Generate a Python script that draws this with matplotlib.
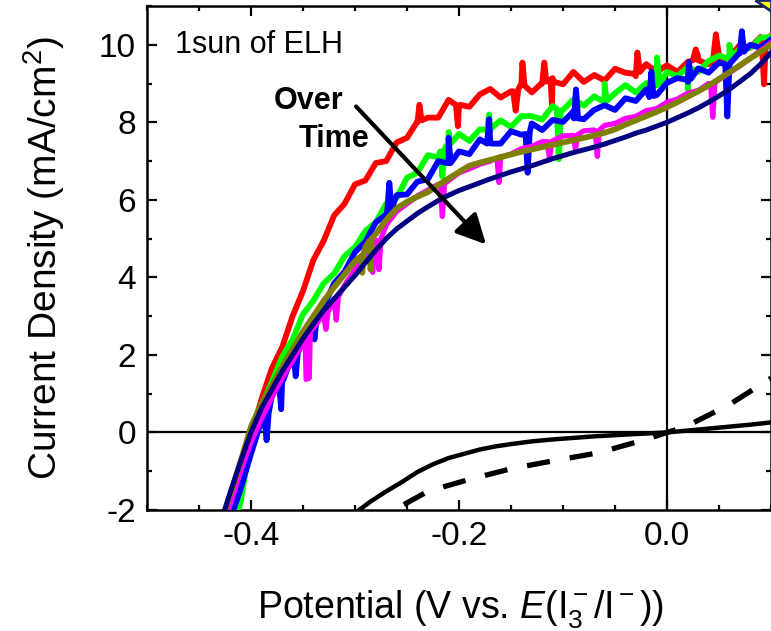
import numpy as np
import matplotlib
matplotlib.use('Agg')
import matplotlib.pyplot as plt
from matplotlib.ticker import MultipleLocator, FormatStrFormatter
from matplotlib.patches import Polygon

plt.rcParams['font.family'] = 'Liberation Sans'
plt.rcParams['mathtext.fontset'] = 'custom'
plt.rcParams['mathtext.rm'] = 'Liberation Sans'
plt.rcParams['mathtext.it'] = 'Liberation Sans:italic'
plt.rcParams['axes.unicode_minus'] = False

# ---- data (V vs E(I3-/I-), mA/cm2) ----
potential = [-0.43, -0.42, -0.41, -0.40, -0.39, -0.38, -0.37, -0.36, -0.35, -0.34,
             -0.33, -0.32, -0.31, -0.30, -0.29, -0.28, -0.27, -0.26, -0.25, -0.24,
             -0.23, -0.22, -0.21, -0.20, -0.19, -0.18, -0.17, -0.16, -0.15, -0.14,
             -0.13, -0.12, -0.11, -0.10, -0.09, -0.08, -0.07, -0.06, -0.05, -0.04,
             -0.03, -0.02, -0.01, 0.00, 0.01, 0.02, 0.03, 0.04, 0.05, 0.06,
             0.07, 0.08, 0.09, 0.10]

red_j = [-2.7, -1.85, -1.0, -0.1, 0.85, 1.65, 2.2, 3.0, 3.65, 4.45,
         4.95, 5.6, 5.9, 6.4, 6.5, 6.95, 7.0, 7.48, 7.60, 8.02,
         8.12, 8.12, 8.58, 8.43, 8.40, 8.72, 8.86, 8.64, 8.80, 9.01,
         8.77, 9.02, 9.14, 8.98, 9.30, 9.04, 9.22, 9.08, 9.38, 9.28,
         9.19, 9.50, 9.30, 9.47, 9.30, 9.56, 9.69, 9.50, 9.72, 9.68,
         9.99, 9.93, 10.2, 10.23]
green_j = [-3.6, -2.7, -1.8, -0.15, 0.7, 1.3, 1.95, 2.4, 3.05, 3.4,
           3.85, 4.1, 4.55, 4.78, 5.2, 5.42, 5.9, 6.05, 6.57, 6.70,
           7.15, 7.10, 7.43, 7.70, 7.52, 7.82, 7.77, 8.05, 7.88, 8.16,
           8.16, 8.07, 8.42, 8.32, 8.59, 8.43, 8.67, 8.51, 8.75, 8.96,
           8.77, 9.01, 8.95, 9.30, 9.19, 9.43, 9.30, 9.58, 9.72, 9.62,
           9.90, 9.92, 10.18, 10.2]
blue_j = [-3.1, -2.25, -1.45, -0.55, 0.3, 0.95, 1.4, 2.0, 2.35, 2.9,
          3.25, 3.85, 4.15, 4.65, 4.92, 5.42, 5.62, 6.12, 6.14, 6.47,
          6.53, 7.0, 6.95, 7.25, 7.18, 7.56, 7.48, 7.45, 7.77, 7.68,
          7.97, 7.8, 8.06, 8.01, 8.28, 8.08, 8.32, 8.44, 8.32, 8.62,
          8.55, 8.85, 8.7, 9.02, 9.14, 9.04, 9.39, 9.28, 9.54, 9.44,
          9.8, 10.0, 9.92, 10.14]
mag_j = [-2.7, -1.85, -1.0, -0.25, 0.35, 0.9, 1.4, 1.85, 2.3, 2.7,
         3.05, 3.45, 3.8, 4.2, 4.55, 4.9, 5.35, 5.7, 5.9, 6.1,
         6.25, 6.4, 6.5, 6.7, 6.8, 6.92, 7.0, 7.12, 7.18, 7.32,
         7.38, 7.5, 7.52, 7.65, 7.66, 7.78, 7.8, 7.92, 7.97, 8.1,
         8.15, 8.3, 8.35, 8.52, 8.6, 8.75, 8.82, 9.0, 9.1, 9.28,
         9.45, 9.65, 9.85, 10.05]
olive_j = [-2.4, -1.6, -0.75, 0.15, 0.75, 1.2, 1.7, 2.15, 2.6, 3.0,
           3.4, 3.75, 4.08, 4.42, 4.78, 5.12, 5.48, 5.78, 5.95, 6.08,
           6.2, 6.38, 6.55, 6.72, 6.88, 6.96, 7.03, 7.1, 7.17, 7.24,
           7.3, 7.36, 7.42, 7.48, 7.54, 7.6, 7.66, 7.73, 7.82, 7.94,
           8.05, 8.16, 8.27, 8.39, 8.52, 8.66, 8.8, 8.95, 9.12, 9.29,
           9.47, 9.65, 9.82, 10.0]
navy_j = [-2.4, -1.55, -0.75, 0.0, 0.62, 1.1, 1.58, 2.0, 2.42, 2.8,
          3.15, 3.45, 3.75, 4.05, 4.38, 4.7, 5.0, 5.25, 5.45, 5.65,
          5.82, 5.98, 6.12, 6.24, 6.34, 6.44, 6.54, 6.63, 6.72, 6.8,
          6.88, 6.97, 7.06, 7.14, 7.22, 7.29, 7.36, 7.44, 7.53, 7.62,
          7.72, 7.8, 7.9, 8.0, 8.12, 8.24, 8.37, 8.52, 8.68, 8.85,
          9.05, 9.25, 9.5, 9.8]

# tall noise spikes (shoulder, tip, shoulder)
red_spk_v = [-0.240, -0.238, -0.236, -0.203, -0.201, -0.199,
             -0.148, -0.1455, -0.143, -0.141, -0.139, -0.137, -0.120, -0.118, -0.116,
             -0.112, -0.1106, -0.109, -0.031, -0.0285, -0.026, 0.025, 0.0276, 0.030,
             0.044, 0.047, 0.050, 0.091, 0.0933, 0.095]
red_spk_j = [8.0, 8.45, 8.05, 8.45, 7.9, 8.45,
             8.8, 8.3, 8.85, 8.95, 9.54, 8.95, 9.0, 9.54, 9.05,
             9.1, 8.46, 9.05, 9.25, 9.8, 9.3, 9.6, 9.88, 9.6,
             9.55, 10.27, 9.6, 10.1, 8.98, 10.15]
green_spk_v = [-0.218, -0.216, -0.214, -0.212, -0.210, -0.208, -0.173, -0.171, -0.169,
               -0.106, -0.104, -0.102, -0.062, -0.060, -0.058, -0.012, -0.0096, -0.007,
               0.018, 0.020, 0.022, 0.058, 0.060, 0.062]
green_spk_j = [7.25, 6.6, 7.3, 7.4, 7.75, 7.45, 7.8, 8.2, 7.85,
               8.35, 7.05, 8.3, 8.55, 9.0, 8.55, 9.0, 9.67, 9.0,
               9.38, 8.85, 9.4, 9.65, 10.0, 9.68]
blue_spk_v = [-0.387, -0.385, -0.383, -0.373, -0.371, -0.369, -0.359, -0.357, -0.355,
              -0.341, -0.339, -0.337, -0.269, -0.267, -0.265, -0.212, -0.210, -0.208,
              -0.173, -0.171, -0.169, -0.136, -0.134, -0.132, -0.0895, -0.0875, -0.0855,
              -0.017, -0.015, -0.013, 0.019, 0.021, 0.023, 0.056, 0.058, 0.060,
              0.070, 0.072, 0.074]
blue_spk_j = [0.35, -0.2, 0.5, 1.3, 0.6, 1.35, 1.95, 1.45, 2.05,
              2.85, 2.4, 2.9, 5.7, 6.44, 5.75, 6.95, 7.6, 6.95,
              7.45, 8.08, 7.45, 7.7, 6.7, 7.75, 8.1, 8.85, 8.1,
              8.65, 9.3, 8.68, 9.1, 9.55, 9.12, 9.5, 8.15, 9.5,
              9.78, 10.35, 9.82]
mag_spk_v = [-0.348, -0.347, -0.344, -0.343, -0.330, -0.328, -0.326, -0.320, -0.318, -0.316,
             -0.285, -0.283, -0.281, -0.279, -0.277, -0.275, -0.218, -0.216, -0.214,
             -0.1635, -0.1615, -0.1595, -0.115, -0.113, -0.111, -0.090, -0.088, -0.086,
             -0.069, -0.067, -0.065, 0.042, 0.044, 0.046]
mag_spk_j = [2.55, 1.37, 1.4, 2.6, 3.0, 2.66, 3.1, 3.45, 2.9, 3.5,
             4.8, 4.13, 4.85, 4.95, 4.2, 5.0, 6.4, 5.57, 6.42,
             7.08, 6.45, 7.1, 7.5, 7.05, 7.5, 7.65, 7.3, 7.68,
             7.78, 7.12, 7.8, 8.98, 8.13, 9.02]
olive_spk_v = [-0.294, -0.293, -0.292, -0.286, -0.285, -0.284]
olive_spk_j = [4.55, 4.12, 4.6, 4.95, 4.2, 5.0]

# dark currents
dark_v = [-0.298, -0.285, -0.270, -0.255, -0.240, -0.225, -0.210, -0.195, -0.180, -0.165,
          -0.150, -0.130, -0.110, -0.090, -0.070, -0.050, -0.030, -0.015, 0.000, 0.020,
          0.040, 0.060, 0.080, 0.100]
dark_j = [-2.04, -1.78, -1.52, -1.28, -1.02, -0.82, -0.66, -0.55, -0.44, -0.36,
          -0.30, -0.23, -0.18, -0.14, -0.10, -0.07, -0.04, -0.02, 0.0, 0.05,
          0.10, 0.15, 0.20, 0.26]
dash_v = [-0.253, -0.232, -0.212, -0.190, -0.149, -0.107, -0.065, -0.043, -0.024, 0.0,
          0.018, 0.060, 0.100]
dash_j = [-1.86, -1.55, -1.38, -1.21, -0.93, -0.72, -0.52, -0.35, -0.21, 0.0,
          0.15, 0.72, 1.40]


def merged(v, j, sv, sj):
    # put the spike points in among the scan points
    allv = np.array(list(v) + list(sv))
    allj = np.array(list(j) + list(sj))
    order = np.argsort(allv, kind='stable')
    return allv[order], allj[order]


fig = plt.figure(figsize=(7.71, 6.31), dpi=100)
ax = fig.add_axes([147 / 771, 121 / 631, 624 / 771, 504 / 631])

ax.axhline(0, color='k', lw=1.6, zorder=1)
ax.axvline(0, color='k', lw=1.6, zorder=1)

curves = [
    (red_j, red_spk_v, red_spk_j, '#ff0000', 4.2),
    (green_j, green_spk_v, green_spk_j, '#00ff00', 4.2),
    (blue_j, blue_spk_v, blue_spk_j, '#0000ff', 4.2),
    (mag_j, mag_spk_v, mag_spk_j, '#ff00ff', 3.8),
    (olive_j, olive_spk_v, olive_spk_j, '#808000', 4.2),
    (navy_j, [], [], '#000080', 3.6),
]
for j, sv, sj, c, w in curves:
    xx, yy = merged(potential, j, sv, sj)
    ax.plot(xx, yy, color=c, lw=w, zorder=3, solid_joinstyle='round')

ax.plot(dark_v, dark_j, color='k', lw=3.2, zorder=4)
ax.plot(dash_v, dash_j, color='k', lw=3.8, zorder=4, dashes=(4.4, 3.8), dash_capstyle='butt')

ax.set_xlim(-0.5, 0.1)
ax.set_ylim(-2, 11)
ax.xaxis.set_major_locator(MultipleLocator(0.2))
ax.xaxis.set_minor_locator(MultipleLocator(0.05))
ax.yaxis.set_major_locator(MultipleLocator(2))
ax.yaxis.set_minor_locator(MultipleLocator(1))
ax.xaxis.set_major_formatter(FormatStrFormatter('%.1f'))
ax.yaxis.set_major_formatter(FormatStrFormatter('%d'))

ax.tick_params(which='both', direction='in', top=True, right=True, width=1.6, labelsize=24)
ax.tick_params(which='major', length=7, pad=8)
ax.tick_params(which='minor', length=3.5)
for s in ax.spines.values():
    s.set_linewidth(1.8)

ax.set_xlabel('Potential (V vs. $\\mathit{E}$(I$_3^-$/I$^-$))', fontsize=27)
ax.xaxis.set_label_coords(0.502, -0.155)
ax.set_ylabel('Current Density (mA/cm$^2$)', fontsize=28)
ax.yaxis.set_label_coords(-0.128, 0.5)

ax.text(-0.473, 9.99, '1sun of ELH', fontsize=22, ha='left', va='center')
ax.text(-0.345, 8.55, 'Over', fontsize=22, fontweight='bold', ha='center', va='center')
ax.text(-0.320, 7.57, 'Time', fontsize=22, fontweight='bold', ha='center', va='center')
ax.annotate('', xy=(-0.174, 4.85), xytext=(-0.299, 8.41),
            arrowprops=dict(arrowstyle='-|>,head_length=0.6,head_width=0.3', lw=3,
                            color='k', mutation_scale=30, shrinkA=0, shrinkB=0),
            zorder=6)

# corner of a neighbouring panel cut into the picture
corner = [(755 / 771, 1.0), (1.0, 1.0), (1.0, 1 - 11 / 631)]
fig.patches.append(Polygon(corner, closed=True, transform=fig.transFigure,
                           facecolor='#ffff00', edgecolor='#1a2a6c', lw=2, zorder=10))

fig.savefig('out.png', dpi=100)
